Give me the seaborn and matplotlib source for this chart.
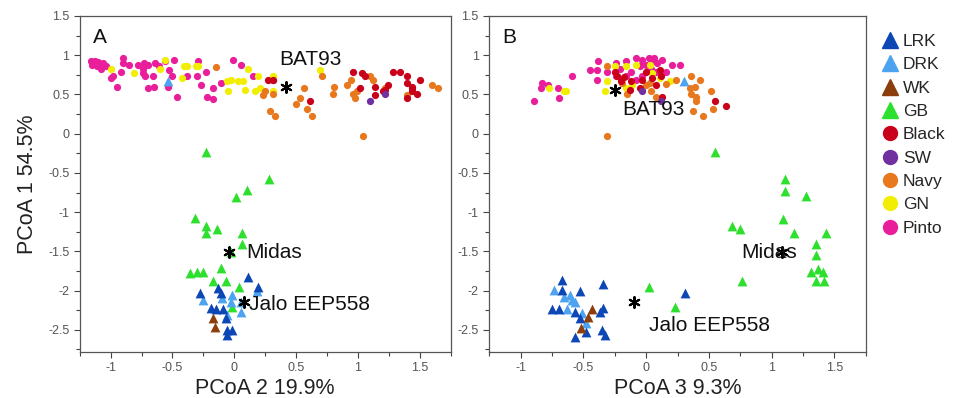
import numpy as np
import pandas as pd
import matplotlib.pyplot as plt
from matplotlib.lines import Line2D
from matplotlib.ticker import MultipleLocator
import seaborn as sns

sns.set_theme(style='ticks')
plt.rcParams['font.family'] = ['Liberation Sans', 'DejaVu Sans']
plt.rcParams['axes.unicode_minus'] = False

# market classes, legend order
groups = ["LRK", "DRK", "WK", "GB", "Black", "SW", "Navy", "GN", "Pinto"]
colors = ["#0d47b5", "#4ea3f0", "#8b3d0c", "#2ee02e", "#c8001a",
          "#7030a0", "#e8781e", "#f2ee00", "#e91e9b"]
shapes = ["^", "^", "^", "^", "o", "o", "o", "o", "o"]

# panel A: (PCoA 2, PCoA 1)
LRK_A = [(0.11, -1.83), (0.19, -1.96), (-0.28, -2.03), (-0.13, -1.97), (-0.11, -2.03),
         (-0.19, -2.22), (-0.09, -2.24), (-0.07, -2.35), (-0.06, -2.50), (-0.02, -2.50),
         (-0.06, -2.56), (-0.15, -2.24)]
DRK_A = [(-0.25, -2.12), (-0.02, -2.05), (-0.03, -2.15), (0.05, -2.15), (0.05, -2.27),
         (0.18, -2.01), (-0.10, -2.09), (-0.06, -2.31), (-0.54, 0.67)]
WK_A = [(-0.17, -2.35), (-0.16, -2.46)]
GB_A = [(-0.23, -0.23), (0.28, -0.58), (0.10, -0.72), (0.01, -0.81), (-0.32, -1.08),
        (-0.23, -1.18), (-0.23, -1.26), (-0.14, -1.22), (0.06, -1.26), (0.06, -1.41),
        (-0.03, -1.51), (-0.36, -1.78), (-0.30, -1.76), (-0.25, -1.76), (-0.11, -1.71),
        (-0.17, -1.88), (-0.07, -1.88), (0.04, -1.95), (-0.02, -2.21)]
BLACK_A = [(0.27, 0.68), (0.31, 0.68), (0.61, 0.42), (0.96, 0.79), (1.03, 0.77),
           (1.06, 0.74), (1.14, 0.60), (1.14, 0.49), (1.22, 0.55), (1.24, 0.62),
           (1.28, 0.79), (1.34, 0.79), (1.40, 0.74), (1.40, 0.64), (1.44, 0.60),
           (1.50, 0.68), (1.44, 0.54), (1.40, 0.45), (1.48, 0.51), (1.02, 0.58),
           (1.20, 0.54), (1.44, 0.58)]
SW_A = [(1.10, 0.41), (1.22, 0.51)]
NAVY_A = [(-0.15, 0.85), (0.23, 0.49), (0.29, 0.29), (0.31, 0.51), (0.33, 0.23),
          (0.56, 0.58), (0.53, 0.45), (0.50, 0.38), (0.59, 0.32), (0.63, 0.22),
          (0.71, 0.73), (0.81, 0.60), (0.80, 0.51), (0.91, 0.62), (0.94, 0.68),
          (0.96, 0.51), (0.99, 0.54), (1.10, 0.73), (1.12, 0.68), (1.22, 0.58),
          (1.40, 0.49), (1.60, 0.62), (1.65, 0.58), (1.04, -0.03), (0.98, 0.45),
          (0.25, 0.54)]
GN_A = [(-0.81, 0.77), (-0.56, 0.94), (-0.60, 0.83), (-0.41, 0.86), (-0.38, 0.86),
        (-0.31, 0.86), (-0.29, 0.86), (-0.42, 0.71), (-0.06, 0.67), (-0.03, 0.68),
        (0.03, 0.67), (0.07, 0.67), (0.11, 0.83), (-0.05, 0.54), (0.09, 0.56),
        (0.17, 0.54), (0.21, 0.58), (0.19, 0.73), (-1.00, 0.83), (0.31, 0.74),
        (0.31, 0.54), (0.69, 0.81)]
PINTO_A = [(-1.16, 0.92), (-1.13, 0.92), (-1.10, 0.91), (-1.06, 0.90), (-1.11, 0.86),
           (-1.08, 0.83), (-1.04, 0.86), (-1.15, 0.87), (-1.12, 0.89), (-1.07, 0.88),
           (-0.90, 0.96), (-0.90, 0.90), (-0.85, 0.87), (-0.78, 0.87), (-0.73, 0.90),
           (-0.70, 0.87), (-0.66, 0.74), (-0.74, 0.77), (-0.64, 0.90), (-0.61, 0.86),
           (-0.56, 0.92), (-0.53, 0.81), (-0.49, 0.94), (-0.92, 0.79), (-0.98, 0.74),
           (-1.00, 0.71), (-0.95, 0.60), (-0.70, 0.58), (-0.65, 0.60), (-0.54, 0.59),
           (-0.46, 0.47), (-0.50, 0.73), (-0.38, 0.74), (-0.30, 0.74), (-0.29, 0.92),
           (-0.23, 0.79), (-0.27, 0.62), (-0.17, 0.58), (-0.22, 0.47), (-0.17, 0.44),
           (-0.01, 0.94), (0.05, 0.87), (0.15, 0.74), (-0.11, 0.65), (-0.74, 0.83),
           (-0.72, 0.74), (0.31, 0.68)]

# panel B: (PCoA 3, PCoA 1)
LRK_B = [(-0.67, -1.86), (-0.67, -1.99), (-0.53, -2.01), (-0.34, -1.92), (-0.75, -2.24),
         (-0.69, -2.24), (-0.57, -2.27), (-0.53, -2.35), (-0.37, -2.27), (-0.34, -2.22),
         (-0.35, -2.50), (-0.33, -2.56), (-0.57, -2.59), (-0.48, -2.53), (0.31, -2.03)]
DRK_B = [(-0.73, -1.99), (-0.65, -2.08), (-0.61, -2.05), (-0.59, -2.12), (-0.63, -2.24),
         (-0.51, -2.28), (-0.48, -2.41), (-0.57, -2.15), (0.30, 0.67)]
WK_B = [(-0.43, -2.24), (-0.46, -2.33), (-0.52, -2.47)]
GB_B = [(0.55, -0.23), (1.11, -0.58), (1.11, -0.73), (1.27, -0.79), (1.09, -1.09),
        (0.68, -1.18), (0.75, -1.21), (1.18, -1.26), (1.43, -1.26), (1.35, -1.41),
        (1.35, -1.54), (1.31, -1.76), (1.37, -1.73), (1.41, -1.76), (1.35, -1.88),
        (1.42, -1.88), (0.76, -1.88), (0.02, -1.96), (0.23, -2.21)]
BLACK_B = [(-0.25, 0.79), (-0.23, 0.74), (-0.20, 0.67), (-0.13, 0.55), (-0.05, 0.58),
           (0.11, 0.81), (0.12, 0.74), (0.00, 0.79), (-0.12, 0.67), (0.13, 0.47),
           (0.55, 0.41), (0.64, 0.35), (0.08, 0.62), (-0.03, 0.68), (-0.18, 0.72),
           (0.05, 0.71)]
SW_B = [(-0.03, 0.54), (0.12, 0.41)]
NAVY_B = [(-0.31, 0.86), (-0.19, 0.64), (-0.15, 0.51), (-0.03, 0.55), (0.03, 0.64),
          (0.04, 0.54), (0.08, 0.47), (0.16, 0.63), (0.24, 0.68), (0.36, 0.74),
          (0.43, 0.68), (0.35, 0.58), (0.36, 0.51), (0.40, 0.47), (0.40, 0.41),
          (0.37, 0.29), (0.45, 0.23), (0.53, 0.32), (0.52, 0.54), (-0.31, -0.03),
          (0.00, 0.62), (0.39, 0.60)]
GN_B = [(-0.77, 0.58), (-0.65, 0.54), (-0.64, 0.54), (-0.33, 0.54), (-0.25, 0.86),
        (-0.16, 0.86), (-0.08, 0.87), (0.03, 0.87), (0.11, 0.71), (0.19, 0.67),
        (-0.31, 0.67), (-0.11, 0.62), (-0.16, 0.58), (0.05, 0.77)]
PINTO_B = [(-0.89, 0.42), (-0.84, 0.58), (-0.83, 0.65), (-0.78, 0.62), (-0.69, 0.46),
           (-0.70, 0.58), (-0.59, 0.74), (-0.45, 0.81), (-0.39, 0.81), (-0.38, 0.92),
           (-0.39, 0.68), (-0.31, 0.78), (-0.24, 0.90), (-0.16, 0.92), (-0.08, 0.96),
           (-0.03, 0.94), (0.00, 0.87), (0.05, 0.92), (0.09, 0.90), (0.13, 0.94),
           (0.21, 0.87), (0.27, 0.87), (-0.05, 0.86), (-0.03, 0.74), (0.04, 0.83),
           (0.08, 0.79), (-0.12, 0.79), (-0.08, 0.68), (0.16, 0.79), (-0.21, 0.83),
           (0.02, 0.96), (0.06, 0.97), (-0.16, 0.74), (-0.24, 0.74)]

# reference genotypes: marker position and label position per panel
refs = ["BAT93", "Midas", "Jalo EEP558"]
ref_pts_A = [(0.42, 0.59), (-0.04, -1.51), (0.08, -2.14)]
ref_lbl_A = [(0.36, 0.95), (0.10, -1.51), (0.12, -2.18)]
ref_pts_B = [(-0.25, 0.56), (1.08, -1.51), (-0.10, -2.14)]
ref_lbl_B = [(-0.19, 0.31), (0.76, -1.51), (0.02, -2.44)]

data_A = [LRK_A, DRK_A, WK_A, GB_A, BLACK_A, SW_A, NAVY_A, GN_A, PINTO_A]
data_B = [LRK_B, DRK_B, WK_B, GB_B, BLACK_B, SW_B, NAVY_B, GN_B, PINTO_B]

rows = []
for panel, data in (("A", data_A), ("B", data_B)):
    for g, pts in zip(groups, data):
        for x, y in pts:
            rows.append({"panel": panel, "group": g, "x": x, "y": y})
df = pd.DataFrame(rows)

palette = dict(zip(groups, colors))
markers = dict(zip(groups, shapes))

fig = plt.figure(figsize=(9.61, 3.98), dpi=100)
axA = fig.add_axes([0.083, 0.116, 0.386, 0.844])
axB = fig.add_axes([0.509, 0.116, 0.392, 0.844])

draw_order = ["Pinto", "GN", "Navy", "Black", "SW", "GB", "DRK", "LRK", "WK"]
for ax, panel, pts, lbls, xlabel, letter in (
        (axA, "A", ref_pts_A, ref_lbl_A, "PCoA 2 19.9%", "A"),
        (axB, "B", ref_pts_B, ref_lbl_B, "PCoA 3 9.3%", "B")):
    sub = df[df.panel == panel]
    for g in draw_order:
        d = sub[sub.group == g]
        sns.scatterplot(data=d, x="x", y="y", ax=ax, color=palette[g],
                        marker=markers[g], s=50 if markers[g] == "^" else 27,
                        linewidth=0, legend=False, zorder=3)
    for name, (px, py), (lx, ly) in zip(refs, pts, lbls):
        ax.scatter(px, py, marker=(6, 2, 0), s=60, color="black", linewidth=1.5, zorder=4)
        ax.text(lx, ly, name, fontsize=15, va="center", ha="left", color="#111", zorder=5)

    ax.set_xlim(-1.25, 1.75)
    ax.set_ylim(-2.78, 1.5)
    ax.xaxis.set_minor_locator(MultipleLocator(0.25))
    ax.yaxis.set_minor_locator(MultipleLocator(0.25))
    ax.set_xticks(np.arange(-1, 1.51, 0.5))
    ax.set_yticks(np.arange(-2.5, 1.51, 0.5))
    ax.set_xticklabels([f"{v:g}" for v in np.arange(-1, 1.51, 0.5)])
    ax.set_yticklabels([f"{v:g}" for v in np.arange(-2.5, 1.51, 0.5)])
    ax.tick_params(which="major", length=4, width=0.8, colors="#444",
                   labelsize=9, labelcolor="#555")
    ax.tick_params(which="minor", length=3, width=0.8, colors="#444")
    for sp in ax.spines.values():
        sp.set_color("#555")
        sp.set_linewidth(0.9)
    ax.set_xlabel(xlabel, fontsize=15.5, color="#222", labelpad=3)
    ax.set_ylabel("")
    ax.text(0.035, 0.965, letter, transform=ax.transAxes, fontsize=15,
            va="top", ha="left", color="#111")

axA.set_ylabel("PCoA 1 54.5%", fontsize=15.5, color="#222", labelpad=7)

handles = [Line2D([], [], linestyle="none", marker=m, color=c, markersize=10 if m == "o" else 11)
           for m, c in zip(shapes, colors)]
fig.legend(handles, groups, loc="upper left", bbox_to_anchor=(0.908, 0.932),
           frameon=False, fontsize=12.5, handletextpad=0.15, labelspacing=0.47,
           handlelength=1.2, borderaxespad=0)

fig.savefig("out.png", dpi=100)
